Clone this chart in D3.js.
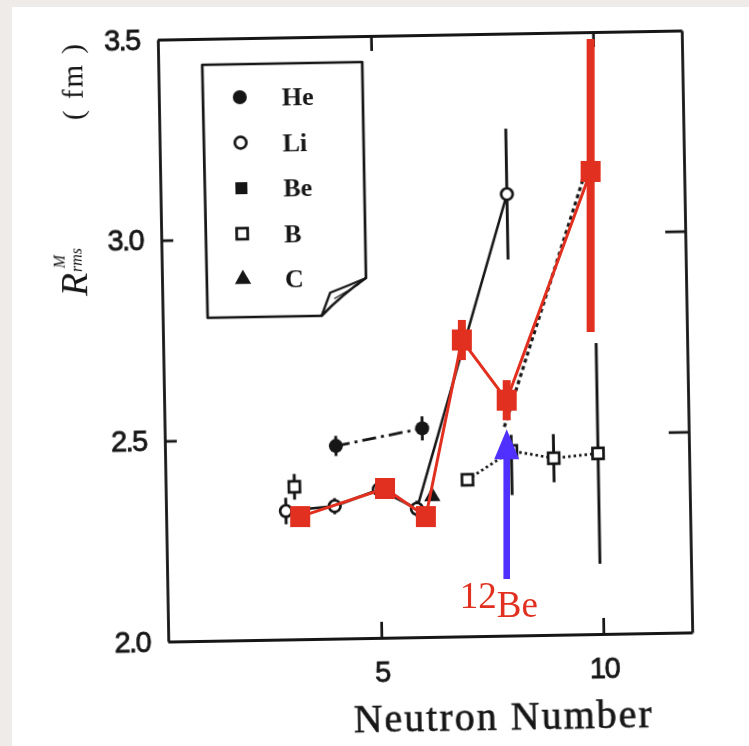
<!DOCTYPE html>
<html>
<head>
<meta charset="utf-8">
<script src="https://cdn.jsdelivr.net/npm/d3@7"></script>
<style>
  html, body { margin: 0; padding: 0; background: #eeebe8; }
  svg { display: block; }
</style>
</head>
<body>
<svg id="chart" width="749" height="746"></svg>
<script>
// ---- axis ticks ----
const xTicks = [5, 10];
const yTicks = [2.0, 2.5, 3.0, 3.5];
const yTicksRight = [2.5, 3.0];

// ---- matter radii (fm) by neutron number ----
const heN = [4.05, 6], heR = [2.48, 2.52], heErr = [0.025, 0.03];
const liN = [2.9, 4, 5, 5.85, 8], liR = [2.32, 2.33, 2.37, 2.32, 3.10], liErr = [0.033, 0.02, 0.02, 0.02, 0.163];
// Be points sit under the highlighted Be overlay; only the 12Be-14Be link shows
const beN = [7.85, 9.8], beR = [2.52, 3.16];
const bN = [3.1, 7, 8, 8.95, 9.95], bR = [2.38, 2.39, 2.46, 2.44, 2.45];
const bErrLo = [0.032, 0, 0.11, 0.06, 0.275], bErrHi = [0.032, 0, 0.04, 0.06, 0.275];
const cN = [6.2], cR = [2.35];

// ---- highlighted Be isotopes ----
const redN = [3.29, 5.2, 6.12, 6.93, 7.94, 9.83];
const redR = [2.30, 2.37, 2.30, 2.74, 2.59, 3.16];
const redErr = [0, 0, 0, 0.05, 0.05, 0.40];

const legendNames = ["He", "Li", "Be", "B", "C"];

const ink = "#161616";
const red = "#e1301f";
const blue = "#5030ff";

const svg = d3.select("#chart");
svg.append("rect").attr("x", 12).attr("y", 7).attr("width", 737).attr("height", 739).attr("fill", "#fff");

const defs = svg.append("defs");
defs.append("filter").attr("id", "soft")
  .attr("x", "-5%").attr("y", "-5%").attr("width", "110%").attr("height", "110%")
  .append("feGaussianBlur").attr("stdDeviation", 0.55);

const x = d3.scaleLinear().domain([0.2, 12]).range([163, 687]);
const y = d3.scaleLinear().domain([2.0, 3.5]).range([637, 35]);

// the printed figure sits slightly tilted on the page
const scan = svg.append("g")
  .attr("transform", "rotate(-1,426,336)")
  .attr("filter", "url(#soft)");

function styleAxis(g) {
  g.selectAll(".domain").attr("stroke", ink).attr("stroke-width", 2.8);
  g.selectAll(".tick line").attr("stroke", ink).attr("stroke-width", 2.7);
  g.selectAll("text").attr("fill", ink)
    .attr("stroke", ink).attr("stroke-width", 0.8)
    .attr("font-family", "'Liberation Sans', Arial, sans-serif")
    .attr("font-size", 29).attr("letter-spacing", -1.5);
}

scan.append("g").attr("transform", `translate(0,${y(2.0)})`)
  .call(d3.axisBottom(x).tickValues(xTicks).tickSize(-16).tickSizeOuter(0).tickPadding(23).tickFormat(d3.format("d")))
  .call(styleAxis);
scan.append("g").attr("transform", `translate(0,${y(3.5)})`)
  .call(d3.axisTop(x).tickValues(xTicks).tickSize(-15).tickSizeOuter(0).tickFormat(""))
  .call(styleAxis);
scan.append("g").attr("transform", `translate(${x(0.2)},0)`)
  .call(d3.axisLeft(y).tickValues(yTicks).tickSize(-12).tickSizeOuter(0).tickPadding(18).tickFormat(d3.format(".1f")))
  .call(styleAxis);
scan.append("g").attr("transform", `translate(${x(12)},0)`)
  .call(d3.axisRight(y).tickValues(yTicksRight).tickSize(-20).tickSizeOuter(0).tickFormat(""))
  .call(styleAxis);

// axis titles
scan.append("text")
  .attr("x", 497).attr("y", 731)
  .attr("text-anchor", "middle")
  .attr("font-family", "'Liberation Serif', 'Times New Roman', serif")
  .attr("font-size", 40).attr("letter-spacing", 2)
  .attr("fill", ink).attr("stroke", ink).attr("stroke-width", 0.6)
  .text("Neutron Number");

const yTitle = scan.append("g").attr("fill", ink)
  .attr("font-family", "'Liberation Serif', 'Times New Roman', serif");
yTitle.append("text").attr("transform", "translate(88,290) rotate(-90)")
  .attr("font-size", 38).attr("font-style", "italic").text("R");
yTitle.append("text").attr("transform", "translate(66,262) rotate(-90)")
  .attr("font-size", 16).attr("font-style", "italic").text("M");
yTitle.append("text").attr("transform", "translate(83,266) rotate(-90)")
  .attr("font-size", 16).attr("font-style", "italic").text("rms");
yTitle.append("text").attr("transform", "translate(87,114) rotate(-90)")
  .attr("font-size", 29).attr("letter-spacing", 2).text("( fm )");

// ---- series ----
const line = d3.line().x(d => x(d[0])).y(d => y(d[1]));
const zip = (a, b) => a.map((v, i) => [v, b[i]]);

function drawLine(pts, dash, width) {
  scan.append("path").attr("d", line(pts))
    .attr("fill", "none").attr("stroke", ink).attr("stroke-width", width)
    .attr("stroke-dasharray", dash);
}
function drawErr(N, R, lo, hi) {
  N.forEach((n, i) => {
    if (!lo[i] && !hi[i]) return;
    scan.append("line")
      .attr("x1", x(n)).attr("x2", x(n))
      .attr("y1", y(R[i] - lo[i])).attr("y2", y(R[i] + hi[i]))
      .attr("stroke", ink).attr("stroke-width", 2.9);
  });
}
function drawMarks(g, pts, kind) {
  pts.forEach(([px, py]) => {
    if (kind === "fcircle") g.append("circle").attr("cx", px).attr("cy", py).attr("r", 7).attr("fill", ink);
    if (kind === "ocircle") g.append("circle").attr("cx", px).attr("cy", py).attr("r", 5.8)
      .attr("fill", "#fff").attr("stroke", ink).attr("stroke-width", 2.7);
    if (kind === "fsquare") g.append("rect").attr("x", px - 6).attr("y", py - 6).attr("width", 12).attr("height", 12).attr("fill", ink);
    if (kind === "osquare") g.append("rect").attr("x", px - 5.5).attr("y", py - 5.5).attr("width", 11).attr("height", 11)
      .attr("fill", "#fff").attr("stroke", ink).attr("stroke-width", 2.7);
    if (kind === "triangle") g.append("path").attr("transform", `translate(${px},${py})`)
      .attr("d", d3.symbol().type(d3.symbolTriangle).size(115)()).attr("fill", ink);
  });
}

drawLine(zip(heN, heR), "14,5,3,5", 2.8);
drawLine(zip(liN, liR), null, 2.5);
drawLine(zip(beN, beR), "4,3.5", 3.2);
drawLine(zip(bN.slice(1), bR.slice(1)), "2.5,3", 2.7);

drawErr(heN, heR, heErr, heErr);
drawErr(liN, liR, liErr, liErr);
drawErr(bN, bR, bErrLo, bErrHi);

const toPx = (N, R) => N.map((n, i) => [x(n), y(R[i])]);
drawMarks(scan, toPx(heN, heR), "fcircle");
drawMarks(scan, toPx(liN, liR), "ocircle");
drawMarks(scan, toPx(bN, bR), "osquare");
drawMarks(scan, toPx(cN, cR), "triangle");

// ---- legend (dog-eared note) ----
const lg = scan.append("g");
lg.append("path")
  .attr("d", "M207,61 L367,61 L367,277 Q343,293 322,314 L208,314 Z")
  .attr("fill", "#fff").attr("stroke", ink).attr("stroke-width", 2.7).attr("stroke-linejoin", "round");
lg.append("path")
  .attr("d", "M367,277 Q350,284 331,291 L322,314")
  .attr("fill", "none").attr("stroke", ink).attr("stroke-width", 2.3);
lg.append("path")
  .attr("d", "M335,297 L360,283")
  .attr("fill", "none").attr("stroke", ink).attr("stroke-width", 1.2);

const kinds = ["fcircle", "ocircle", "fsquare", "osquare", "triangle"];
legendNames.forEach((name, i) => {
  const cy = 94 + i * 45.5;
  drawMarks(lg, [[244, cy]], kinds[i]);
  lg.append("text").attr("x", 286).attr("y", cy + 9)
    .attr("font-family", "'Liberation Serif', 'Times New Roman', serif")
    .attr("font-size", 26).attr("font-weight", "bold").attr("fill", ink)
    .text(name);
});

// ---- highlighted Be overlay ----
const over = svg.append("g");
over.append("path").attr("d", line(zip(redN, redR)))
  .attr("fill", "none").attr("stroke", red).attr("stroke-width", 3);
redN.forEach((n, i) => {
  if (!redErr[i]) return;
  const top = Math.min(redR[i] + redErr[i], 3.49);
  over.append("rect")
    .attr("x", x(n) - 4).attr("width", 8)
    .attr("y", y(top)).attr("height", y(redR[i] - redErr[i]) - y(top))
    .attr("fill", red);
});
redN.forEach((n, i) => {
  over.append("rect")
    .attr("x", x(n) - 10).attr("y", y(redR[i]) - 10.5)
    .attr("width", 20).attr("height", 21).attr("fill", red);
});

// arrow pointing at 12Be
const ax = x(redN[4]);
const tipY = y(redR[4] - redErr[4]) + 9;
const baseY = 579;
over.append("rect").attr("x", ax - 3.3).attr("width", 6.6)
  .attr("y", tipY + 25).attr("height", baseY - tipY - 25).attr("fill", blue);
over.append("path")
  .attr("d", `M${ax},${tipY} L${ax + 12.5},${tipY + 30} L${ax - 12.5},${tipY + 30} Z`)
  .attr("fill", blue);

const lab = over.append("text")
  .attr("x", ax - 47).attr("y", 608)
  .attr("font-family", "'Liberation Serif', 'Times New Roman', serif")
  .attr("font-size", 37).attr("fill", red);
lab.append("tspan").text("12");
lab.append("tspan").attr("dy", 9).text("Be");
</script>
</body>
</html>
